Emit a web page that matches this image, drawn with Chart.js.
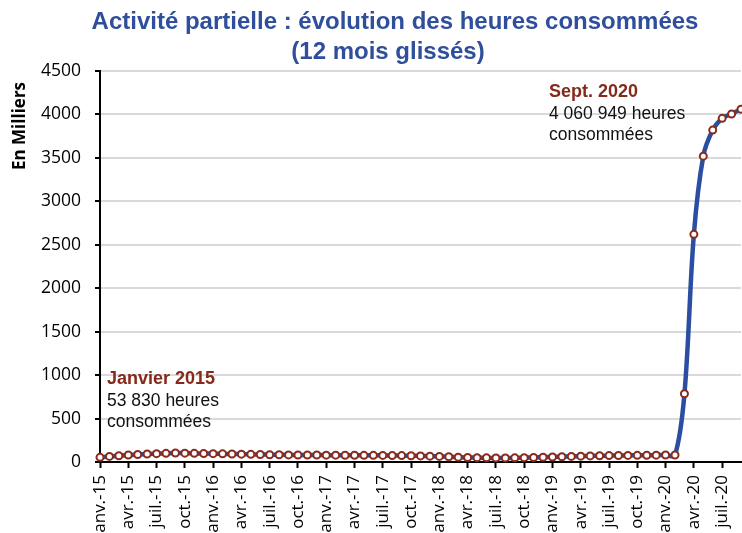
<!doctype html>
<html lang="fr">

<head>
  <meta charset="utf-8">
  <title>Activité partielle : évolution des heures consommées</title>
  <style>
    body { margin: 0; background: #fff; overflow: hidden; }
    #wrap { position: relative; width: 742px; height: 533px; }
  </style>
</head>

<body>
  <div id="wrap">
    <canvas id="myChart"></canvas>
  </div>
  <script src="https://cdn.jsdelivr.net/npm/chart.js"></script>
  <script>
    // mois (janv. 2015 -> sept. 2020)
    const mois = [
      'janv.-15', 'févr.-15', 'mars-15', 'avr.-15', 'mai-15', 'juin-15', 'juil.-15', 'août-15', 'sept.-15', 'oct.-15', 'nov.-15', 'déc.-15',
      'janv.-16', 'févr.-16', 'mars-16', 'avr.-16', 'mai-16', 'juin-16', 'juil.-16', 'août-16', 'sept.-16', 'oct.-16', 'nov.-16', 'déc.-16',
      'janv.-17', 'févr.-17', 'mars-17', 'avr.-17', 'mai-17', 'juin-17', 'juil.-17', 'août-17', 'sept.-17', 'oct.-17', 'nov.-17', 'déc.-17',
      'janv.-18', 'févr.-18', 'mars-18', 'avr.-18', 'mai-18', 'juin-18', 'juil.-18', 'août-18', 'sept.-18', 'oct.-18', 'nov.-18', 'déc.-18',
      'janv.-19', 'févr.-19', 'mars-19', 'avr.-19', 'mai-19', 'juin-19', 'juil.-19', 'août-19', 'sept.-19', 'oct.-19', 'nov.-19', 'déc.-19',
      'janv.-20', 'févr.-20', 'mars-20', 'avr.-20', 'mai-20', 'juin-20', 'juil.-20', 'août-20', 'sept.-20'
    ];

    // heures consommées, 12 mois glissés (en milliers)
    const heures = [
      54, 64, 72, 80, 86, 92, 96, 100, 103, 102, 100, 98,
      96, 94, 92, 90, 88, 86, 84, 83, 82, 81, 80, 80,
      79, 79, 78, 78, 77, 77, 76, 75, 74, 72, 70, 67,
      64, 60, 56, 52, 50, 48, 47, 47, 48, 50, 52, 55,
      58, 61, 64, 67, 70, 72, 74, 75, 76, 77, 78, 79,
      80, 80, 785, 2620, 3520, 3820, 3955, 4005, 4061
    ];

    const titre = ['Activité partielle : évolution des heures consommées', '(12 mois glissés)'];
    const titreAxeY = 'En Milliers';
    const noteDebut = ['Janvier 2015', '53 830 heures', 'consommées'];
    const noteFin = ['Sept. 2020', '4 060 949 heures', 'consommées'];

    // textes : titre, titre de l'axe, notes
    const textes = {
      id: 'textes',
      afterDraw(chart) {
        const ctx = chart.ctx;
        ctx.save();
        ctx.textBaseline = 'alphabetic';

        ctx.fillStyle = '#2f4e9c';
        ctx.font = 'bold 24px "Liberation Sans", Arial, sans-serif';
        ctx.textAlign = 'center';
        ctx.fillText(titre[0], 395, 29);
        ctx.fillText(titre[1], 388, 59);

        ctx.save();
        ctx.translate(25, 126);
        ctx.rotate(-Math.PI / 2);
        ctx.fillStyle = '#000';
        ctx.font = 'bold 17px "Open Sans", sans-serif';
        ctx.fillText(titreAxeY, 0, 0);
        ctx.restore();

        ctx.textAlign = 'left';
        const note = (lignes, x, y) => {
          ctx.fillStyle = '#85291a';
          ctx.font = 'bold 18px "Liberation Sans", Arial, sans-serif';
          ctx.fillText(lignes[0], x, y);
          ctx.fillStyle = '#111';
          ctx.font = '17.5px "Liberation Sans", Arial, sans-serif';
          ctx.fillText(lignes[1], x, y + 21.5);
          ctx.fillText(lignes[2], x, y + 43);
        };
        note(noteDebut, 107, 384);
        note(noteFin, 549, 97);
        ctx.restore();
      }
    };

    globalThis.chart = new Chart(document.getElementById('myChart'), {
      type: 'line',
      data: {
        labels: mois,
        datasets: [{
          data: heures,
          borderColor: '#2b4ea2',
          borderWidth: 4.5,
          tension: 0.35,
          fill: false,
          clip: false,
          pointRadius: 3.5,
          pointBorderWidth: 2,
          pointBorderColor: '#8b2a1a',
          pointBackgroundColor: '#fff'
        }]
      },
      options: {
        responsive: true,
        maintainAspectRatio: false,
        animation: false,
        layout: { autoPadding: false, padding: { top: 71, right: 1, left: 0, bottom: 0 } },
        plugins: {
          legend: { display: false },
          tooltip: { enabled: false }
        },
        scales: {
          x: {
            grid: { drawOnChartArea: false, tickLength: 6, tickColor: '#000', tickWidth: 2 },
            border: { color: '#000', width: 2 },
            ticks: {
              autoSkip: false,
              minRotation: 90,
              maxRotation: 90,
              padding: 7,
              color: '#000',
              font: { family: '"Open Sans", sans-serif', size: 17 },
              callback: (v, i) => (i % 3 === 0 ? mois[i] : null)
            },
            afterFit: (s) => { s.height = 71; s.paddingLeft = 0; s.paddingRight = 0; }
          },
          y: {
            min: 0,
            max: 4500,
            grid: { color: '#d9d9d9', lineWidth: 2, tickLength: 5, tickColor: '#000', tickWidth: 2 },
            border: { color: '#000', width: 2 },
            ticks: {
              stepSize: 500,
              padding: 14,
              color: '#000',
              font: { family: '"Open Sans", sans-serif', size: 17.5 },
              callback: (v) => String(v)
            },
            afterFit: (s) => { s.width = 100; s.paddingTop = 0; s.paddingBottom = 0; }
          }
        }
      },
      plugins: [textes]
    });
  </script>
</body>

</html>
